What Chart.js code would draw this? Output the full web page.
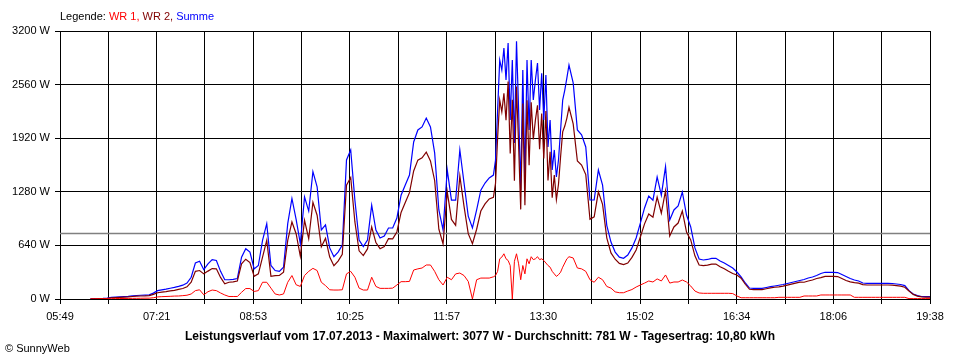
<!DOCTYPE html>
<html><head><meta charset="utf-8">
<script src="https://cdn.jsdelivr.net/npm/chart.js@4/dist/chart.umd.min.js"></script>
<style>html,body{margin:0;padding:0;background:#fff}#wrap{width:960px;height:360px;position:relative}</style>
</head><body><div id="wrap"><canvas id="c" width="960" height="360"></canvas></div>
<script>
const times=['06:18','06:22','06:26','06:30','06:34','06:38','06:42','06:46','06:50','06:54',
'06:58','07:02','07:06','07:10','07:14','07:18','07:22','07:26','07:30','07:34',
'07:38','07:42','07:46','07:50','07:54','07:58','08:02','08:06','08:10','08:14',
'08:18','08:22','08:26','08:30','08:34','08:38','08:42','08:46','08:50','08:54',
'08:58','09:02','09:06','09:10','09:14','09:18','09:22','09:26','09:30','09:34',
'09:38','09:42','09:46','09:50','09:54','09:58','10:02','10:06','10:10','10:14',
'10:18','10:22','10:26','10:30','10:34','10:38','10:42','10:46','10:50','10:54',
'10:58','11:02','11:06','11:10','11:14','11:18','11:22','11:26','11:30','11:34',
'11:38','11:42','11:46','11:50','11:54','11:58','12:02','12:06','12:10','12:14',
'12:18','12:22','12:26','12:30','12:34','12:38','12:42',
'12:44','12:46','12:48','12:50','12:52','12:54','12:56','12:58','13:00','13:02','13:04','13:06','13:08','13:10','13:12','13:14','13:16','13:18','13:20','13:22','13:24','13:26','13:28','13:30','13:32','13:34','13:36','13:38','13:40','13:42','13:44','13:46','13:48','13:50','13:52','13:54',
'13:58','14:02','14:06','14:10','14:14','14:18','14:22','14:26','14:30','14:34',
'14:38','14:42','14:46','14:50','14:54','14:58','15:02','15:06','15:10','15:14',
'15:18','15:22','15:26','15:30','15:34','15:38','15:42','15:46','15:50','15:54',
'15:58','16:02','16:06','16:10','16:14','16:18','16:22','16:26','16:30','16:34',
'16:38','16:42','16:46','16:50','16:54','16:58','17:02','17:06','17:10','17:14',
'17:18','17:22','17:26','17:30','17:34','17:38','17:42','17:46','17:50','17:54',
'17:58','18:02','18:06','18:10','18:14','18:18','18:22','18:26','18:30','18:34',
'18:38','18:42','18:46','18:50','18:54','18:58','19:02','19:06','19:10','19:14',
'19:18','19:22','19:26','19:30','19:34','19:38'];

const summe=[3,5,6,8,12,20,22,25,28,32,
38,42,45,47,50,70,100,110,118,128,
138,150,165,190,260,430,450,350,420,470,
460,330,230,230,235,245,500,600,560,360,
400,700,900,400,340,330,380,900,1200,950,
660,1220,1050,1520,1340,824,884,610,505,560,
645,1660,1780,1180,705,625,705,1120,824,728,
752,848,848,967,1240,1360,1480,1875,2018,2055,
2160,2055,1745,1063,824,1540,1180,1180,1780,1385,
990,848,1063,1300,1385,1445,1480,
1660,2257,2854,2734,2997,2615,3057,2137,2854,1862,3077,2257,1300,2734,1420,2854,2018,2854,2376,2615,2818,2257,2695,2137,2675,1815,2137,1540,1780,1457,1660,2018,2376,2495,2640,2794,
2580,2018,1960,1815,1182,1182,1540,1360,880,680,
560,500,486,525,610,728,907,1087,1230,1180,
1457,1240,1580,943,1063,1110,1278,1003,860,610,
478,466,472,484,486,454,430,400,370,322,
263,191,131,128,128,128,137,147,155,164,
173,185,197,209,221,233,251,263,281,304,
319,319,319,316,293,269,245,227,215,191,
187,187,187,187,187,187,185,179,173,160,
100,60,40,30,28,28];

const wr1=[1,2,2,3,4,5,5,6,6,7,
8,8,9,10,10,15,25,28,30,32,
35,36,40,45,60,100,110,50,87,107,
100,72,48,30,30,30,80,125,125,90,
100,200,200,130,60,48,60,200,280,170,
150,280,330,366,340,200,160,110,107,107,
110,300,330,260,130,107,107,260,150,127,
127,127,130,167,207,207,210,346,360,370,
406,406,330,230,167,260,230,300,310,280,
210,0,230,250,250,250,265,
280,330,480,500,540,480,460,400,0,450,540,420,230,400,300,480,420,505,470,480,505,470,480,460,430,400,380,330,300,270,290,320,380,430,480,505,
490,370,360,330,230,200,260,230,150,130,
85,75,75,95,113,143,167,190,215,203,
240,215,287,190,203,203,227,203,155,95,
72,68,68,68,68,68,68,68,65,36,
15,15,15,15,15,15,15,15,15,20,
20,20,20,20,20,36,36,36,36,48,
48,48,48,48,48,48,48,20,20,20,
20,20,20,20,20,20,20,20,20,20,
5,5,5,5,5,5];

const wr2=[2,3,4,5,8,15,17,19,22,25,
30,34,36,37,40,55,75,82,88,96,
103,114,125,145,200,330,340,300,333,363,
360,258,182,200,205,215,420,475,435,270,
300,500,700,270,280,282,320,700,920,780,
510,940,720,1154,1000,624,724,500,398,453,
535,1360,1450,920,575,518,598,860,674,601,
625,721,718,800,1033,1153,1270,1529,1658,1685,
1754,1649,1415,833,657,1280,950,880,1470,1105,
780,661,833,1050,1135,1195,1215,
1380,1927,2374,2234,2457,2135,2597,1737,2380,1412,2537,1837,1070,2334,1120,2374,1598,2349,1906,2135,2313,1787,2215,1677,2245,1415,1757,1210,1480,1187,1370,1698,1996,2065,2160,2289,
2090,1648,1600,1485,952,982,1280,1130,730,550,
475,425,411,430,497,585,740,897,1015,977,
1217,1025,1293,753,860,907,1051,800,705,515,
406,398,404,416,418,386,362,332,305,286,
248,176,116,113,113,113,122,132,140,144,
153,165,177,189,201,200,215,227,245,256,
271,271,271,268,245,221,205,195,190,171,
167,167,167,167,167,167,165,159,153,140,
95,55,35,25,23,23];

const average=781;
const xTickLabels=['05:49','07:21','08:53','10:25','11:57','13:30','15:02','16:34','18:06','19:38'];
const yMax=3200, yStep=640;
const legendParts=[['Legende: ','#000000'],['WR 1, ','#ff0000'],['WR 2, ','#800000'],['Summe','#0000ff']];
const titleText='Leistungsverlauf vom 17.07.2013 - Maximalwert: 3077 W - Durchschnitt: 781 W - Tagesertrag: 10,80 kWh';
const footerText='\u00A9 SunnyWeb';

const toMin=s=>parseInt(s.slice(0,2),10)*60+parseInt(s.slice(3),10);
const xMin=toMin(xTickLabels[0]), xMax=toMin(xTickLabels[xTickLabels.length-1]);
const nGrid=(xTickLabels.length-1)*2;
const FONT='"Liberation Sans", Arial, sans-serif';

const pts=arr=>times.map((t,i)=>({x:toMin(t),y:arr[i]}));

const textPlugin={id:'texts',afterDraw(chart){
  const ctx=chart.ctx;ctx.save();
  ctx.textBaseline='middle';ctx.textAlign='left';
  ctx.font='11px '+FONT;
  let x=60;
  for(const [t,c] of legendParts){ctx.fillStyle=c;ctx.fillText(t,x,17);x+=ctx.measureText(t).width;}
  ctx.font='bold 12px '+FONT;ctx.fillStyle='#000';ctx.textAlign='center';
  ctx.fillText(titleText,480,337);
  ctx.font='11px '+FONT;ctx.textAlign='left';
  ctx.fillText(footerText,5,349);
  ctx.restore();
}};

new Chart(document.getElementById('c'),{
  type:'line',
  data:{datasets:[
    {label:'WR 1',data:pts(wr1),borderColor:'#ff0000',borderWidth:1,pointRadius:0,order:1},
    {label:'WR 2',data:pts(wr2),borderColor:'#800000',borderWidth:1.2,pointRadius:0,order:2},
    {label:'Summe',data:pts(summe),borderColor:'#0000ff',borderWidth:1.2,pointRadius:0,order:3},
    {label:'Durchschnitt',data:[{x:xMin,y:average},{x:xMax,y:average}],borderColor:'#808080',borderWidth:1.5,pointRadius:0,order:4}
  ]},
  options:{
    responsive:false,animation:false,devicePixelRatio:1,
    layout:{padding:{top:31,right:30,left:0,bottom:0}},
    plugins:{legend:{display:false},tooltip:{enabled:false},title:{display:false}},
    elements:{line:{tension:0}},
    scales:{
      x:{type:'linear',min:xMin,max:xMax,
        afterBuildTicks:s=>{s.ticks=Array.from({length:nGrid+1},(_,i)=>({value:xMin+i*(xMax-xMin)/nGrid}));},
        afterFit:s=>{s.height=61;},
        ticks:{autoSkip:false,maxRotation:0,padding:6,color:'#000',font:{family:FONT,size:11},
          callback:(v,i)=>i%2===0?xTickLabels[i/2]:''},
        grid:{color:'#000',lineWidth:1,tickLength:5},border:{color:'#000',width:1}},
      y:{min:0,max:yMax,
        afterFit:s=>{s.width=60;},
        ticks:{stepSize:yStep,padding:5,color:'#000',font:{family:FONT,size:11},callback:v=>v+' W'},
        grid:{color:'#000',lineWidth:1,tickLength:5},border:{color:'#000',width:1}}
    }
  },
  plugins:[textPlugin]
});
</script></body></html>
